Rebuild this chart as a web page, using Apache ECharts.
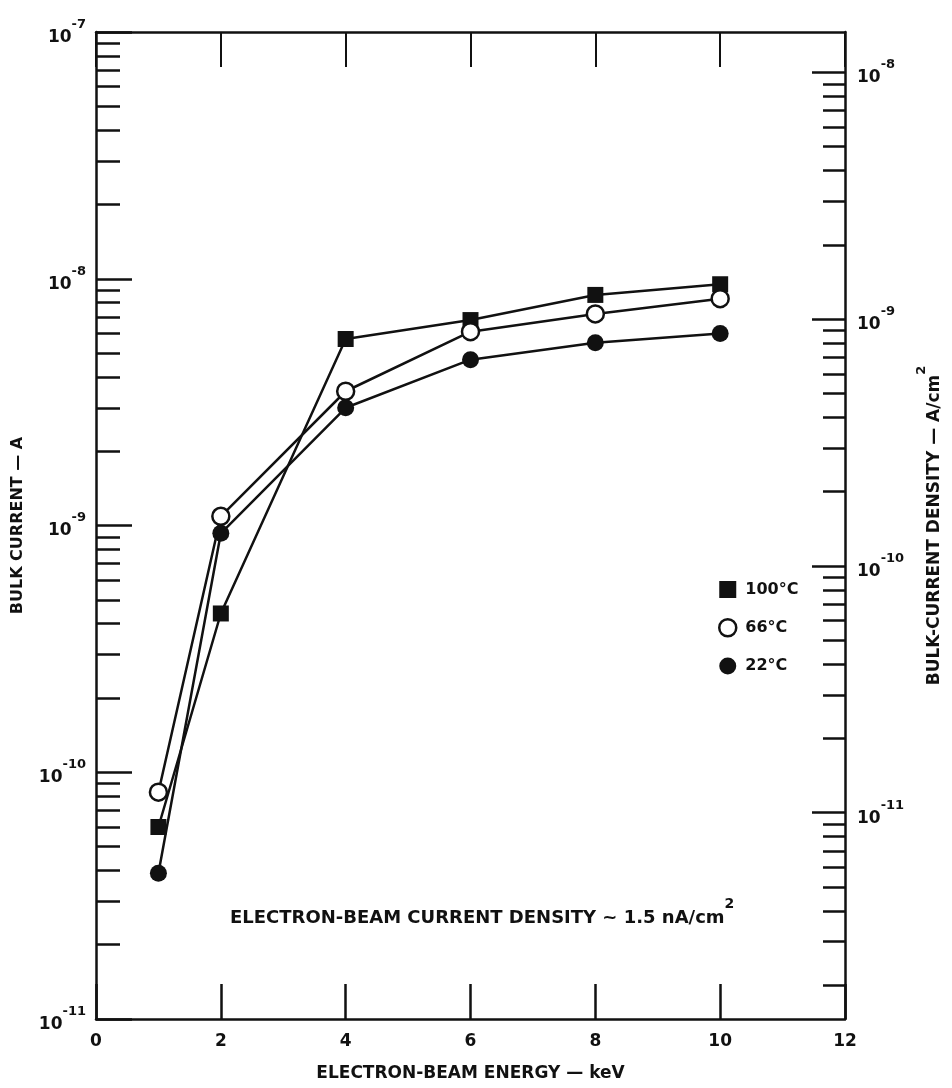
<!DOCTYPE html>
<html>
<head>
<meta charset="utf-8">
<script src="https://cdn.jsdelivr.net/npm/echarts@6/dist/echarts.min.js"></script>
<style>
  html, body { margin: 0; padding: 0; background: #fff; }
  #main { width: 952px; height: 1088px; }
</style>
</head>
<body>
<div id="main"></div>
<script>
// electron-beam energy, keV
var energy = [1, 2, 4, 6, 8, 10];
// bulk current, A
var bulk100 = [6.0e-11, 4.4e-10, 5.7e-9, 6.8e-9, 8.6e-9, 9.5e-9];
var bulk66 = [8.3e-11, 1.09e-9, 3.5e-9, 6.1e-9, 7.2e-9, 8.3e-9];
var bulk22 = [3.9e-11, 9.3e-10, 3.0e-9, 4.7e-9, 5.5e-9, 6.0e-9];
var seriesNames = ["100°C", "66°C", "22°C"];

// log10 decades for the axes
var leftDecades = [-11, -10, -9, -8, -7];
var rightDecades = [-11, -10, -9, -8];
// right axis (A/cm2) is left axis (A) shifted by the sample area
var areaShift = 0.836;

var FONT = "DejaVu Sans, Liberation Sans, sans-serif";

function minorLogs(decades, lo, hi) {
  var out = [];
  decades.forEach(function (d) {
    for (var k = 2; k <= 9; k++) {
      var v = d + Math.log10(k);
      if (v > lo && v < hi) out.push(v);
    }
  });
  return out;
}
var leftMinor = minorLogs([-11, -10, -9, -8], -11, -7);
var rightMinor = minorLogs([-12, -11, -10, -9, -8], -11 - areaShift, -7 - areaShift);

function pairs(ys) {
  return energy.map(function (x, i) { return [x, ys[i]]; });
}

var black = "#111";
function richPair(size, supSize, lh) {
  return {
    b: { fontFamily: FONT, fontSize: size, fontWeight: "bold", color: black, verticalAlign: "bottom", lineHeight: lh || 28 },
    s: { fontFamily: FONT, fontSize: supSize, fontWeight: "bold", color: black, verticalAlign: "top", lineHeight: lh || 28 }
  };
}
function powLabel(v) {
  return "{b|10}{s|" + Math.round(v) + "}";
}

var chart = echarts.init(document.getElementById("main"));
chart.setOption({
  backgroundColor: "#fff",
  animation: false,
  grid: { left: 96, right: 107, top: 32, bottom: 69, show: false, outerBoundsMode: "none", containLabel: false },
  title: {
    text: "{b|ELECTRON-BEAM CURRENT DENSITY ~ 1.5 nA/cm}{s|2}",
    left: 225,
    top: 892,
    textStyle: { rich: richPair(18, 14, 30) }
  },
  legend: {
    orient: "vertical",
    left: 713,
    top: 576,
    itemWidth: 17,
    itemHeight: 17,
    itemGap: 20,
    textStyle: { fontFamily: FONT, fontSize: 16, fontWeight: "bold", color: black, padding: [0, 0, 0, 4] },
    data: [
      { name: seriesNames[0], icon: "rect" },
      { name: seriesNames[1], icon: "circle", itemStyle: { color: "#fff", borderColor: black, borderWidth: 2.5 } },
      { name: seriesNames[2], icon: "circle" }
    ]
  },
  xAxis: [
    {
      type: "value", position: "bottom", min: 0, max: 12, interval: 2,
      name: "ELECTRON-BEAM ENERGY — keV", nameLocation: "middle", nameGap: 46,
      nameTextStyle: { fontFamily: FONT, fontSize: 17, fontWeight: "bold", color: black },
      axisLine: { onZero: false, lineStyle: { color: black, width: 2.5 } },
      axisTick: { inside: true, length: 35, lineStyle: { color: black, width: 2.5 } },
      axisLabel: { margin: 14, fontFamily: FONT, fontSize: 17, fontWeight: "bold", color: black },
      splitLine: { show: false }
    },
    {
      type: "value", position: "top", min: 0, max: 12, interval: 2,
      axisLine: { onZero: false, lineStyle: { color: black, width: 2.5 } },
      axisTick: { inside: true, length: 35, lineStyle: { color: black, width: 2 } },
      axisLabel: { show: false },
      splitLine: { show: false }
    }
  ],
  yAxis: [
    {
      // data axis
      type: "log", logBase: 10, min: 1e-11, max: 1e-7, show: false,
      axisLine: { onZero: false }, splitLine: { show: false }
    },
    {
      type: "value", position: "left", min: -11, max: -7, interval: 1,
      name: "BULK CURRENT — A", nameLocation: "middle", nameGap: 70, nameRotate: 90,
      nameTextStyle: { fontFamily: FONT, fontSize: 16, fontWeight: "bold", color: black },
      axisLine: { onZero: false, lineStyle: { color: black, width: 2.5 } },
      axisTick: { inside: true, length: 36, lineStyle: { color: black, width: 2.5 } },
      axisLabel: { margin: 10, formatter: powLabel, rich: richPair(17, 13) },
      splitLine: { show: false }
    },
    {
      type: "value", position: "left", min: -11, max: -7,
      axisLine: { show: false, onZero: false },
      axisTick: { inside: true, length: 24, customValues: leftMinor, lineStyle: { color: black, width: 2.5 } },
      axisLabel: { show: false },
      splitLine: { show: false }
    },
    {
      type: "value", position: "right", min: -11 - areaShift, max: -7 - areaShift,
      name: "{b|BULK-CURRENT DENSITY — A/cm}{s|2}", nameLocation: "middle", nameGap: 70, nameRotate: 90,
      nameTextStyle: { rich: richPair(17, 13) },
      axisLine: { onZero: false, lineStyle: { color: black, width: 2.5 } },
      axisTick: { inside: true, length: 33, customValues: rightDecades, lineStyle: { color: black, width: 2.5 } },
      axisLabel: { margin: 12, customValues: rightDecades, formatter: powLabel, rich: richPair(17, 13) },
      splitLine: { show: false }
    },
    {
      type: "value", position: "right", min: -11 - areaShift, max: -7 - areaShift,
      axisLine: { show: false, onZero: false },
      axisTick: { inside: true, length: 22, customValues: rightMinor, lineStyle: { color: black, width: 2.5 } },
      axisLabel: { show: false },
      splitLine: { show: false }
    }
  ],
  series: [
    {
      name: seriesNames[0], type: "line", xAxisIndex: 0, yAxisIndex: 0,
      data: pairs(bulk100), symbol: "rect", symbolSize: 16,
      lineStyle: { color: black, width: 2.5 },
      itemStyle: { color: black }
    },
    {
      name: seriesNames[1], type: "line", xAxisIndex: 0, yAxisIndex: 0,
      data: pairs(bulk66), symbol: "circle", symbolSize: 17,
      lineStyle: { color: black, width: 2.5 },
      itemStyle: { color: "#fff", borderColor: black, borderWidth: 2.5 }
    },
    {
      name: seriesNames[2], type: "line", xAxisIndex: 0, yAxisIndex: 0,
      data: pairs(bulk22), symbol: "circle", symbolSize: 17,
      lineStyle: { color: black, width: 2.5 },
      itemStyle: { color: black }
    }
  ]
});
</script>
</body>
</html>
